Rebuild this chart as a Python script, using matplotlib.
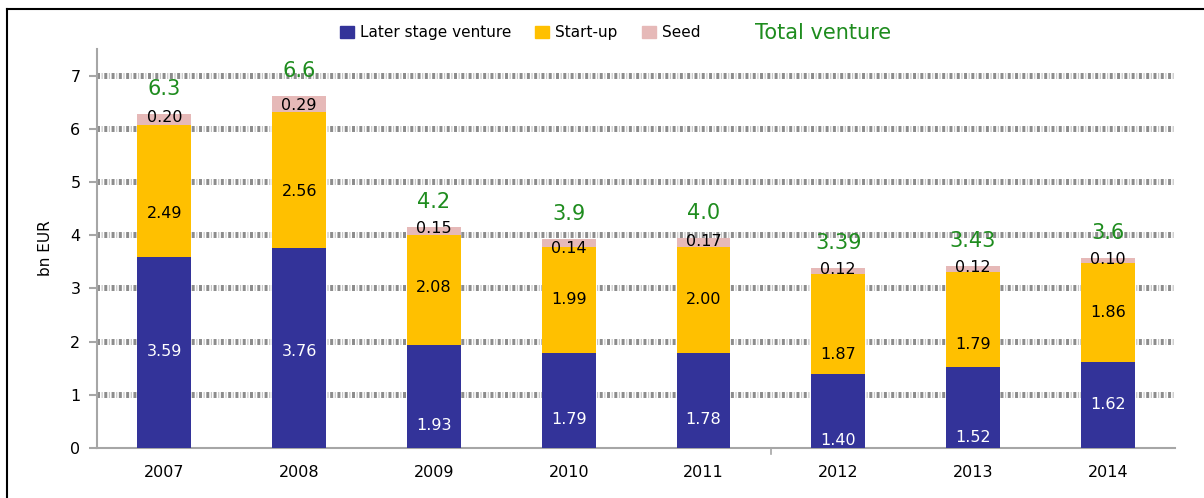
import matplotlib
matplotlib.use("Agg")
import matplotlib.pyplot as plt
from matplotlib.patches import Patch
from matplotlib.lines import Line2D
import numpy as np

years = ["2007", "2008", "2009", "2010", "2011", "2012", "2013", "2014"]
later_stage = [3.59, 3.76, 1.93, 1.79, 1.78, 1.40, 1.52, 1.62]
start_up = [2.49, 2.56, 2.08, 1.99, 2.00, 1.87, 1.79, 1.86]
seed = [0.20, 0.29, 0.15, 0.14, 0.17, 0.12, 0.12, 0.10]
total_labels = ["6.3", "6.6", "4.2", "3.9", "4.0", "3.39", "3.43", "3.6"]

# label placement (data units)
later_label_y = [1.81, 1.81, 0.43, 0.53, 0.53, 0.15, 0.19, 0.81]
start_label_y = [4.40, 4.82, 3.01, 2.79, 2.79, 1.75, 1.94, 2.54]
seed_label_y = [6.21, 6.44, 4.12, 3.75, 3.88, 3.35, 3.39, 3.54]
total_offset = 0.47

c_later = "#333399"
c_start = "#FFC000"
c_seed = "#E6B9B8"
c_total = "#1E8C1E"

plt.rcParams["font.family"] = ["DejaVu Sans"]

fig = plt.figure(figsize=(12.04, 4.98), dpi=100)
ax = fig.add_axes([0.0806, 0.1004, 0.8954, 0.8012])

x = np.arange(len(years))
later = np.array(later_stage)
start = np.array(start_up)
sd = np.array(seed)
w = 0.4

ax.bar(x, later, w, color=c_later, zorder=3)
ax.bar(x, start, w, bottom=later, color=c_start, zorder=3)
ax.bar(x, sd, w, bottom=later + start, color=c_seed, zorder=3)

# dashed grid bands: thick dark blocks with a thin light mark in each gap
for v in range(1, 8):
    ax.axhline(v, color="#8c8c8c", lw=4.3, zorder=2, linestyle=(0, (0.5, 0.72)),
               solid_capstyle="butt")
    ax.axhline(v, color="#c4c4c4", lw=4.3, zorder=2, linestyle=(0.46, (0.2, 1.02)))

for i in range(len(years)):
    ax.text(x[i], later_label_y[i], f"{later_stage[i]:.2f}", ha="center", va="center",
            color="white", fontsize=11.5, zorder=5)
    ax.text(x[i], start_label_y[i], f"{start_up[i]:.2f}", ha="center", va="center",
            color="black", fontsize=11.5, zorder=5)
    ax.text(x[i], seed_label_y[i], f"{seed[i]:.2f}", ha="center", va="center",
            color="black", fontsize=11.5, zorder=5)
    tot = later[i] + start[i] + sd[i]
    ax.text(x[i], tot + total_offset, total_labels[i], ha="center", va="center",
            color=c_total, fontsize=15, zorder=5)

ax.set_xlim(-0.5, len(years) - 0.5)
ax.set_ylim(0, 7.5)
ax.set_yticks(range(0, 8))
ax.set_xticks(x)
ax.set_xticklabels(years)
ax.tick_params(axis="x", length=0, labelsize=11.5, pad=12)
ax.tick_params(axis="y", length=6, width=1.5, color="#a6a6a6", labelsize=11.5, pad=6)
ax.set_ylabel("bn EUR", fontsize=11, labelpad=12)

for s in ["top", "right"]:
    ax.spines[s].set_visible(False)
for s in ["left", "bottom"]:
    ax.spines[s].set_color("#a6a6a6")
    ax.spines[s].set_linewidth(1.5)

# single category divider tick between 2011 and 2012
ax.plot([4.5, 4.5], [0, -0.12], color="#a6a6a6", lw=1.2, clip_on=False, zorder=4)

handles = [Patch(color=c_later, label="Later stage venture"),
           Patch(color=c_start, label="Start-up"),
           Patch(color=c_seed, label="Seed")]
fig.legend(handles=handles, loc="center", bbox_to_anchor=(0.432, 0.934), ncol=3,
           frameon=False, fontsize=11, handlelength=0.9, handleheight=0.9,
           handletextpad=0.4, columnspacing=1.6)
fig.text(0.627, 0.934, "Total venture", color=c_total, fontsize=15, ha="left", va="center")

# outer frame (top and left edges visible)
fig.add_artist(Line2D([0.006, 1.0], [0.982, 0.982], color="black", lw=1.5))
fig.add_artist(Line2D([0.006, 0.006], [0.0, 0.982], color="black", lw=1.5))

fig.savefig("out.png", dpi=100)
